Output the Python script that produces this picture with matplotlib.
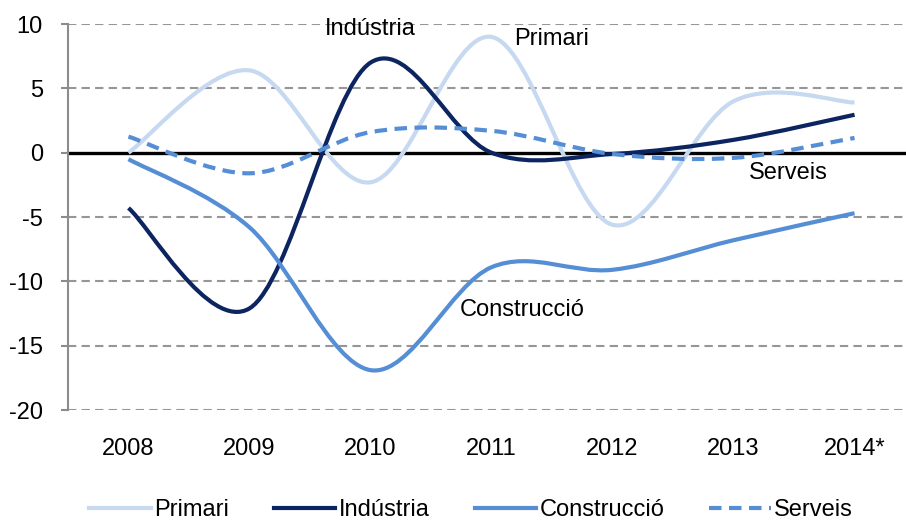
import matplotlib.pyplot as plt
from matplotlib.path import Path
from matplotlib.patches import PathPatch
from matplotlib.lines import Line2D

plt.rcParams['font.family'] = ['Liberation Sans', 'DejaVu Sans']
plt.rcParams['axes.unicode_minus'] = False

# Dades (taxa de variació, %)
anys = ["2008", "2009", "2010", "2011", "2012", "2013", "2014*"]
primari = [0.0, 6.4, -2.3, 9.0, -5.6, 4.0, 3.9]
industria = [-4.3, -12.1, 7.0, 0.0, -0.1, 1.0, 2.95]
construccio = [-0.5, -5.8, -16.9, -8.9, -9.1, -6.8, -4.7]
serveis = [1.25, -1.6, 1.6, 1.7, -0.1, -0.4, 1.15]

series = [
    ("Primari", primari, "#C6D9F1", "-"),
    ("Indústria", industria, "#0C2460", "-"),
    ("Construcció", construccio, "#558ED5", "-"),
    ("Serveis", serveis, "#558ED5", (0, (3, 1.8))),
]


# corba suavitzada tipus Excel (Bezier a partir dels punts)
def cami_suau(ys):
    xs = list(range(len(ys)))
    pts = list(zip(xs, ys))
    n = len(pts)
    verts = [pts[0]]
    codes = [Path.MOVETO]
    for i in range(n - 1):
        p0 = pts[max(i - 1, 0)]
        p1 = pts[i]
        p2 = pts[i + 1]
        p3 = pts[min(i + 2, n - 1)]
        c1 = (p1[0] + (p2[0] - p0[0]) / 6, p1[1] + (p2[1] - p0[1]) / 6)
        c2 = (p2[0] - (p3[0] - p1[0]) / 6, p2[1] - (p3[1] - p1[1]) / 6)
        verts += [c1, c2, p2]
        codes += [Path.CURVE4] * 3
    return Path(verts, codes)


fig = plt.figure(figsize=(9.06, 5.23), dpi=100)
ax = fig.add_axes([0.075, 0.216, 0.935, 0.738])

ax.set_xlim(-0.5, 6.5)
ax.set_ylim(-20, 10)
ax.set_yticks(range(-20, 11, 5))
ax.set_xticks(range(len(anys)))
ax.set_xticklabels(anys)

for y in range(-20, 11, 5):
    if y != 0:
        ax.axhline(y, color="#969696", lw=1.5, ls=(0, (4, 2.5)), zorder=1)
ax.axhline(0, color="black", lw=2.4, zorder=2)

handles = []
for nom, vals, col, ls in series:
    patch = PathPatch(cami_suau(vals), facecolor="none", edgecolor=col,
                      lw=3, ls=ls, capstyle="butt", joinstyle="round", zorder=3)
    ax.add_patch(patch)
    handles.append(Line2D([], [], color=col, lw=3, ls=ls, label=nom))

for s in ["top", "right", "bottom"]:
    ax.spines[s].set_visible(False)
ax.spines["left"].set_color("#8C8C8C")
ax.spines["left"].set_linewidth(1.5)
ax.tick_params(axis="y", length=5, width=1.5, color="#8C8C8C", pad=13, labelsize=17)
ax.tick_params(axis="x", length=0, pad=20, labelsize=17)

# etiquetes de les sèries
ax.text(2.0, 9.6, "Indústria", ha="center", va="center", fontsize=17)
ax.text(3.5, 8.8, "Primari", ha="center", va="center", fontsize=17)
ax.text(5.45, -1.55, "Serveis", ha="center", va="center", fontsize=17)
ax.text(3.25, -12.2, "Construcció", ha="center", va="center", fontsize=17)

fig.legend(handles=handles, loc="lower center", bbox_to_anchor=(0.52, 0.003),
           ncol=4, frameon=False, fontsize=17, handlelength=2.6,
           handletextpad=0.15, columnspacing=1.9,
           borderpad=0, borderaxespad=0)

fig.savefig("out.png", dpi=100)
